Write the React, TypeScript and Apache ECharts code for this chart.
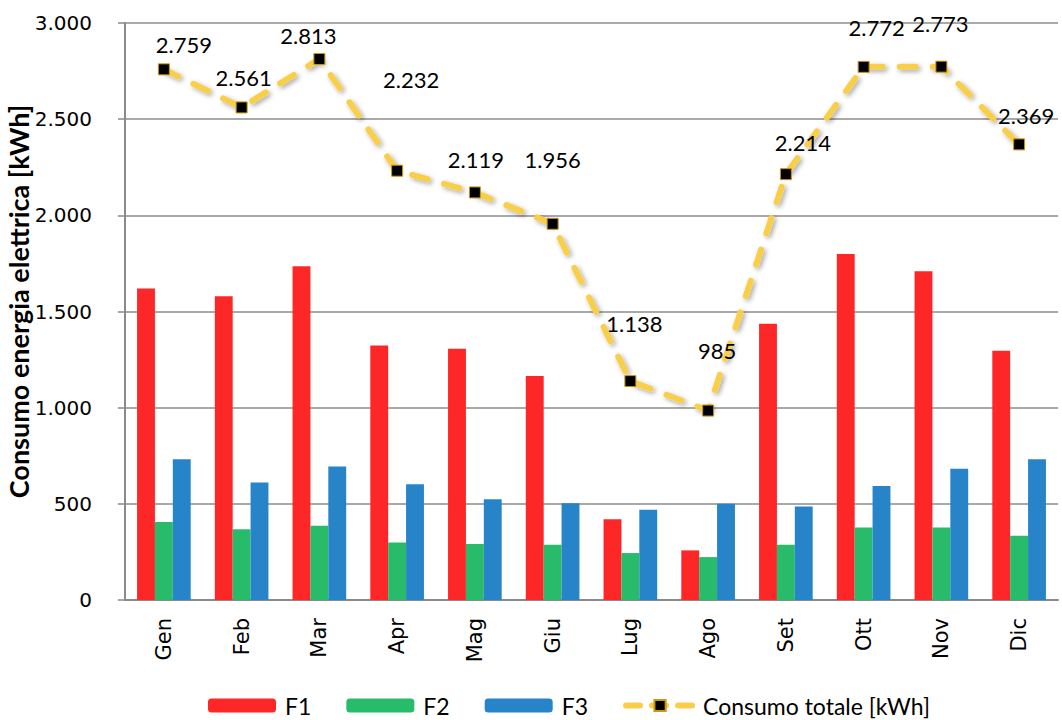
import React, { useEffect, useRef } from "react";
import * as echarts from "echarts";

const months = ["Gen", "Feb", "Mar", "Apr", "Mag", "Giu", "Lug", "Ago", "Set", "Ott", "Nov", "Dic"];
const f1 = [1619, 1579, 1735, 1323, 1306, 1164, 420, 258, 1436, 1799, 1709, 1296];
const f2 = [406, 368, 386, 299, 291, 287, 244, 223, 287, 377, 377, 334];
const f3 = [732, 611, 694, 602, 524, 503, 469, 500, 486, 593, 683, 732];
const totale = [2759, 2561, 2813, 2232, 2119, 1956, 1138, 985, 2214, 2772, 2773, 2369];
const yTicks = [0, 500, 1000, 1500, 2000, 2500, 3000];

// label placement tweaks (styling only)
const labelShift: [number, number][] = [
  [20, -8], [2, -13], [-11, -6], [14, -74], [1, -16], [0, -47],
  [4, -41], [9, -43], [17, -15], [13, -22], [-1, -26], [7, -12],
];

const fmt = (v: number) => String(v).replace(/\B(?=(\d{3})+(?!\d))/g, ".");

export default function App() {
  const ref = useRef<HTMLDivElement>(null);
  useEffect(() => {
    if (!ref.current) return;
    const chart = echarts.init(ref.current, null, { renderer: "svg" });
    const barCommon = {
      type: "bar",
      barGap: "0%",
      barCategoryGap: "31%",
    };
    chart.setOption({
      animation: false,
      backgroundColor: "#fff",
      grid: {
        left: 125,
        right: 4,
        top: 23,
        bottom: 120,
        containLabel: false,
        outerBoundsMode: "none",
      },
      legend: {
        top: 694,
        left: 208,
        padding: 0,
        itemWidth: 68,
        itemHeight: 14,
        itemGap: 35,
        textStyle: { fontFamily: "Lato", fontSize: 23, color: "#000", padding: [0, 0, 0, 4] },
        lineStyle: { width: 6, type: [14, 12], cap: "round", color: "#F9CF4A" },
        data: ["F1", "F2", "F3", "Consumo totale [kWh]"],
      },
      xAxis: {
        type: "category",
        data: months,
        axisLine: { lineStyle: { color: "#8a8a8a", width: 2 } },
        axisTick: { length: 7, lineStyle: { color: "#8a8a8a", width: 1.5 } },
        axisLabel: {
          rotate: 90,
          fontFamily: "DejaVu Sans",
          fontSize: 21,
          color: "#000",
          margin: 18,
        },
      },
      yAxis: {
        type: "value",
        min: 0,
        max: 3000,
        interval: 500,
        name: "Consumo energia elettrica [kWh]",
        nameLocation: "middle",
        nameGap: 93,
        nameMoveOverlap: false,
        nameTextStyle: {
          fontFamily: "Lato",
          fontWeight: "bold",
          fontSize: 27,
          color: "#000",
          padding: [0, 0, 0, 20],
        },
        axisLine: { show: true, lineStyle: { color: "#8a8a8a", width: 2 } },
        axisTick: { show: true, length: 7, lineStyle: { color: "#8a8a8a", width: 1.5 } },
        splitLine: { lineStyle: { color: "#8c8c8c", width: 1.5 } },
        axisLabel: {
          fontFamily: "DejaVu Sans",
          fontSize: 20,
          color: "#000",
          margin: 33,
          formatter: (v: number) => (yTicks.includes(v) ? fmt(v) : ""),
        },
      },
      series: [
        { ...barCommon, name: "F1", data: f1, itemStyle: { color: "#FE2727" } },
        { ...barCommon, name: "F2", data: f2, itemStyle: { color: "#27BB6A" } },
        { ...barCommon, name: "F3", data: f3, itemStyle: { color: "#2784C8" } },
        {
          type: "line",
          name: "Consumo totale [kWh]",
          data: totale.map((v, i) => ({
            value: v,
            label: { offset: labelShift[i] },
          })),
          symbol: "rect",
          symbolSize: 11,
          itemStyle: { color: "#000", borderColor: "#C9980E", borderWidth: 1 },
          lineStyle: {
            color: "#F9CF4A",
            width: 6,
            type: [16, 17],
            cap: "round",
            shadowBlur: 5,
            shadowColor: "rgba(0,0,0,0.35)",
            shadowOffsetX: 2,
            shadowOffsetY: 2,
          },
          label: {
            show: true,
            position: "top",
            distance: 0,
            fontFamily: "Lato",
            fontSize: 22,
            color: "#000",
            formatter: (p: any) => fmt(p.value),
          },
          z: 5,
        },
      ],
    });
    return () => chart.dispose();
  }, []);
  return <div ref={ref} style={{ width: 1062, height: 720, position: "absolute", left: 0, top: 0 }} />;
}
